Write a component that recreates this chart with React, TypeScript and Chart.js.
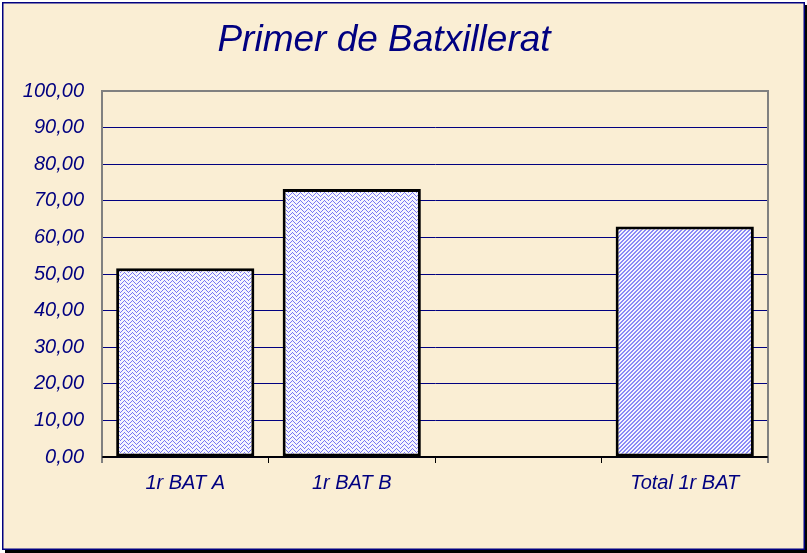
import React, { useEffect, useRef } from "react";
import { Chart, registerables } from "chart.js";

Chart.register(...registerables);

const TITLE = "Primer de Batxillerat";
const CATEGORIES = ["1r BAT A", "1r BAT B", "", "Total 1r BAT"];
const VALUES: (number | null)[] = [51.6, 73.2, null, 63.0];
const Y_MIN = 0;
const Y_MAX = 100;
const Y_STEP = 10;

const NAVY = "#000080";
const FONT = "'Liberation Sans', Arial, sans-serif";

function makePattern(kind: "herring" | "diag"): CanvasPattern | string {
  const size = 8;
  const c = document.createElement("canvas");
  c.width = size;
  c.height = size;
  const ctx = c.getContext("2d");
  if (!ctx) return "#b8b8f5";
  ctx.fillStyle = "#f6f6ff";
  ctx.fillRect(0, 0, size, size);
  ctx.fillStyle = kind === "herring" ? "#7878f2" : "#8a8af6";
  for (let x = 0; x < size; x++) {
    for (let y = 0; y < size; y++) {
      let on = false;
      if (kind === "herring") {
        if (x < 4) on = (x + y) % 4 === 0;
        else on = (((x - y) % 4) + 4) % 4 === 0;
      } else {
        const k = (x + y) % 4;
        on = k === 2 || k === 3;
      }
      if (on) ctx.fillRect(x, y, 1, 1);
    }
  }
  const p = ctx.createPattern(c, "repeat");
  return p || "#b8b8f5";
}

const framePlugin = {
  id: "frame",
  beforeDraw(chart: any) {
    const { ctx, width, height } = chart;
    ctx.save();
    ctx.fillStyle = "#ffffff";
    ctx.fillRect(0, 0, width, height);
    ctx.fillStyle = "#000000";
    ctx.fillRect(5, 5, width - 5, height - 4);
    ctx.fillStyle = "#faeed4";
    ctx.fillRect(2, 2, width - 4, height - 5);
    ctx.strokeStyle = NAVY;
    ctx.lineWidth = 1.5;
    ctx.strokeRect(2.75, 2.75, width - 5.5, height - 6.5);
    ctx.restore();
  },
  afterDraw(chart: any) {
    const { ctx, chartArea } = chart;
    const { left, right, top, bottom } = chartArea;
    ctx.save();
    ctx.strokeStyle = "#808080";
    ctx.lineWidth = 2;
    ctx.beginPath();
    ctx.moveTo(left, bottom + 6);
    ctx.lineTo(left, top);
    ctx.lineTo(right, top);
    ctx.lineTo(right, bottom + 6);
    ctx.stroke();
    ctx.strokeStyle = "#000000";
    ctx.lineWidth = 1.5;
    ctx.beginPath();
    ctx.moveTo(left, bottom);
    ctx.lineTo(right, bottom);
    ctx.stroke();
    // title
    ctx.fillStyle = NAVY;
    ctx.font = `italic 37px ${FONT}`;
    ctx.textAlign = "center";
    ctx.textBaseline = "alphabetic";
    ctx.fillText(TITLE, 384, 51);
    ctx.restore();
  },
};

export default function App() {
  const ref = useRef<HTMLCanvasElement | null>(null);
  useEffect(() => {
    if (!ref.current) return;
    const herring = makePattern("herring");
    const diag = makePattern("diag");
    const chart = new Chart(ref.current, {
      type: "bar",
      data: {
        labels: CATEGORIES,
        datasets: [
          {
            data: VALUES,
            backgroundColor: ((c: any) => (c.dataIndex === 3 ? diag : herring)) as any,
            borderColor: "#000000",
            borderWidth: 3,
            borderSkipped: false as any,
            barPercentage: 0.83,
            categoryPercentage: 1,
          },
        ],
      },
      options: {
        responsive: false,
        animation: false,
        events: [],
        layout: { padding: { top: 91, right: 39, left: 0, bottom: 0 } },
        plugins: {
          legend: { display: false },
          title: { display: false },
          tooltip: { enabled: false },
        },
        scales: {
          x: {
            type: "category",
            afterFit: (s: any) => {
              s.height = 96;
            },
            grid: {
              offset: true,
              drawOnChartArea: false,
              drawTicks: true,
              tickLength: 6,
              color: "#000000",
              lineWidth: 1,
            },
            border: { display: true, color: "#000000", width: 1.5 },
            ticks: {
              color: NAVY,
              padding: 8,
              autoSkip: false,
              maxRotation: 0,
              font: { family: FONT, size: 20, style: "italic" },
            },
          },
          y: {
            min: Y_MIN,
            max: Y_MAX,
            afterFit: (s: any) => {
              s.width = 102;
            },
            grid: {
              color: NAVY,
              lineWidth: 1,
              drawTicks: false,
            },
            border: { display: true, color: "#808080", width: 2 },
            ticks: {
              stepSize: Y_STEP,
              color: NAVY,
              padding: 18,
              font: { family: FONT, size: 20, style: "italic" },
              callback: (v: any) => Number(v).toFixed(2).replace(".", ","),
            },
          },
        },
      },
      plugins: [framePlugin],
    });
    return () => chart.destroy();
  }, []);
  return (
    <div style={{ position: "absolute", left: 0, top: 0, width: 807, height: 553 }}>
      <canvas ref={ref} width={807} height={553} style={{ display: "block" }} />
    </div>
  );
}
